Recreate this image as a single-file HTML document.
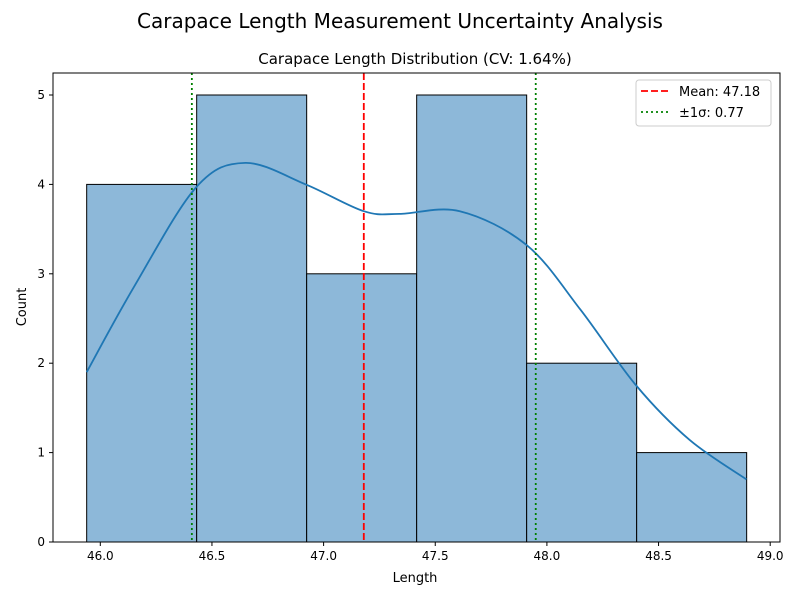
<!DOCTYPE html>
<html><head><meta charset="utf-8"><style>
body{margin:0;background:#fff;}
svg text{font-family:"DejaVu Sans","Liberation Sans",sans-serif;}
</style></head><body>
<svg id="chart" width="800" height="600" xmlns="http://www.w3.org/2000/svg">
<text x="400" y="28" text-anchor="middle" font-size="20" fill="#000">Carapace Length Measurement Uncertainty Analysis</text>
<text x="415" y="64" text-anchor="middle" font-size="15" fill="#000">Carapace Length Distribution (CV: 1.64%)</text>
<g id="plot"></g>
<text x="415" y="582" text-anchor="middle" font-size="13">Length</text>
<text transform="translate(26,307) rotate(-90)" text-anchor="middle" font-size="13">Count</text>
</svg>
<script>
const binStart = 45.939;
const binWidth = 0.4926;
const counts = [4, 5, 3, 5, 2, 1];
const kdeX = [45.939, 46.15, 46.43, 46.65, 46.92, 47.18, 47.34, 47.61, 47.91, 48.15, 48.40, 48.64, 48.894];
const kdeY = [1.9, 2.85, 3.97, 4.24, 4.0, 3.7, 3.67, 3.7, 3.32, 2.6, 1.75, 1.14, 0.7];
const meanVal = 47.18;
const sdVal = 0.77;
const xTicks = [46.0, 46.5, 47.0, 47.5, 48.0, 48.5, 49.0];
const yTicks = [0, 1, 2, 3, 4, 5];

const L=53,R=780,T=73,B=542;
const sx=v=>100.3+(v-46)*223.3;
const sy=v=>542-v*89.4;
const NS="http://www.w3.org/2000/svg";
const g=document.getElementById('plot');
function mk(tag,attrs){const e=document.createElementNS(NS,tag);for(const k in attrs)e.setAttribute(k,attrs[k]);g.appendChild(e);return e;}

counts.forEach((c,i)=>{
  const x0=sx(binStart+i*binWidth),x1=sx(binStart+(i+1)*binWidth);
  const r=mk('rect',{x:x0,y:sy(c),width:x1-x0,height:sy(0)-sy(c),fill:'#8db8d9',stroke:'#000','stroke-width':1});
  
  
});
const pts=kdeX.map((x,i)=>[sx(x),sy(kdeY[i])]);
let d='M'+pts[0].join(',');
for(let i=0;i<pts.length-1;i++){
  const p0=pts[Math.max(0,i-1)],p1=pts[i],p2=pts[i+1],p3=pts[Math.min(pts.length-1,i+2)];
  const c1=[p1[0]+(p2[0]-p0[0])/6,p1[1]+(p2[1]-p0[1])/6];
  const c2=[p2[0]-(p3[0]-p1[0])/6,p2[1]-(p3[1]-p1[1])/6];
  d+=`C${c1[0].toFixed(1)},${c1[1].toFixed(1)} ${c2[0].toFixed(1)},${c2[1].toFixed(1)} ${p2[0].toFixed(1)},${p2[1].toFixed(1)}`;
}
const kde=mk('path',{d:d,fill:'none',stroke:'#1f77b4','stroke-width':1.8});



const ml=mk('line',{x1:sx(meanVal),x2:sx(meanVal),y1:T,y2:B,stroke:'#ff0000','stroke-width':1.8,'stroke-dasharray':'7,3'});


[meanVal-sdVal,meanVal+sdVal].forEach(v=>{
  const l=mk('line',{x1:sx(v),x2:sx(v),y1:T,y2:B,stroke:'#008000','stroke-width':1.8,'stroke-dasharray':'2,3'});
  
  
});
const fr=mk('rect',{x:L,y:T,width:R-L,height:B-T,fill:'none',stroke:'#000','stroke-width':1});



xTicks.forEach(v=>{
  const t=mk('line',{x1:sx(v),x2:sx(v),y1:B,y2:B+4,stroke:'#000'});
  
  
  const tx=mk('text',{x:sx(v),y:B+18,'text-anchor':'middle','font-size':12});
  tx.textContent=v.toFixed(1);
  
  
});
yTicks.forEach(v=>{
  const t=mk('line',{x1:L-4,x2:L,y1:sy(v),y2:sy(v),stroke:'#000'});
  
  
  const tx=mk('text',{x:L-8,y:sy(v)+4,'text-anchor':'end','font-size':12});
  tx.textContent=v;
  
  
});

const lg=mk('rect',{x:636,y:80,width:135,height:46,rx:3,fill:'#fff',stroke:'#ccc'});


const l1=mk('line',{x1:641,x2:669,y1:91,y2:91,stroke:'#ff0000','stroke-width':1.8,'stroke-dasharray':'7,3'});


const t1=mk('text',{x:679,y:96,'font-size':13});t1.textContent='Mean: 47.18';


const l2=mk('line',{x1:641,x2:669,y1:112,y2:112,stroke:'#008000','stroke-width':1.8,'stroke-dasharray':'2,3'});


const t2=mk('text',{x:679,y:117,'font-size':13});t2.textContent='±1σ: 0.77';


</script>
</body></html>
